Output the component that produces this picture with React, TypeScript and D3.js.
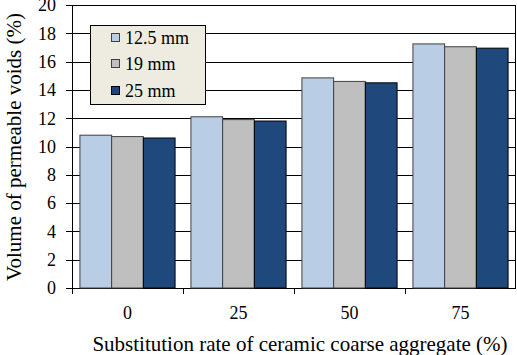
import React from "react";
import * as d3 from "d3";

const categories = ["0", "25", "50", "75"];
const seriesNames = ["12.5 mm", "19 mm", "25 mm"];
const s125 = [10.8, 12.1, 14.85, 17.25];
const s19 = [10.7, 11.9, 14.6, 17.05];
const s25 = [10.6, 11.8, 14.5, 16.95];
const yTicks = [0, 2, 4, 6, 8, 10, 12, 14, 16, 18, 20];

const colors = ["#B9CDE5", "#BFBFBF", "#1F497D"];
const strokes = ["#404040", "#404040", "#000000"];

export default function App() {
  const W = 517, H = 355;
  const left = 72, right = 516, top = 5, bottom = 288;
  const series = [s125, s19, s25];
  const x = d3.scaleBand<string>().domain(categories).range([left, right]).paddingInner(0).paddingOuter(0);
  const inner = d3.scaleBand<number>().domain([0, 1, 2]).range([0, x.bandwidth()]).paddingOuter(0.25).paddingInner(0);
  const y = d3.scaleLinear().domain([0, 20]).range([bottom, top]);
  const font = "'Liberation Serif', 'DejaVu Serif', serif";
  return (
    <svg width={W} height={H} style={{ position: "absolute", left: 0, top: 0, background: "#fff", fontFamily: font }}>
      {yTicks.map((t) => (
        <g key={t}>
          <line x1={left - 6} x2={right} y1={Math.round(y(t)) + 0.5} y2={Math.round(y(t)) + 0.5} stroke="#000" strokeWidth={1} />
          <text x={56} y={y(t)} dy="0.35em" textAnchor="end" fontSize={18} style={{ fontFamily: font }}>{t}</text>
        </g>
      ))}
      <line x1={left + 0.5} x2={left + 0.5} y1={top} y2={bottom + 6} stroke="#000" />
      <line x1={right - 0.5} x2={right - 0.5} y1={top} y2={bottom} stroke="#000" />
      {categories.map((c) => (
        <line key={"t" + c} x1={Math.round(x(c)!) + 0.5} x2={Math.round(x(c)!) + 0.5} y1={bottom} y2={bottom + 6} stroke="#000" />
      ))}
      {categories.map((c, i) =>
        series.map((s, k) => (
          <rect
            key={c + k}
            x={x(c)! + inner(k)!}
            y={y(s[i])}
            width={inner.bandwidth()}
            height={bottom - y(s[i])}
            fill={colors[k]}
            stroke={strokes[k]}
            strokeWidth={1}
          />
        ))
      )}
      {categories.map((c) => (
        <text key={"l" + c} x={x(c)! + x.bandwidth() / 2} y={313} dy="0.35em" textAnchor="middle" fontSize={18} style={{ fontFamily: font }}>{c}</text>
      ))}
      <text x={300} y={344} dy="0.35em" textAnchor="middle" fontSize={21} style={{ fontFamily: font }}>Substitution rate of ceramic coarse aggregate (%)</text>
      <text transform={`translate(14,${147}) rotate(-90)`} dy="0.35em" textAnchor="middle" fontSize={21} style={{ fontFamily: font }}>Volume of permeable voids (%)</text>
      <g>
        <rect x={90.5} y={25.5} width={115} height={79} fill="#EEECE1" stroke="#000" />
        {seriesNames.map((n, k) => (
          <g key={n}>
            <rect x={111.5} y={[38, 64, 91][k] - 4.5} width={8} height={8} fill={colors[k]} stroke={strokes[k]} />
            <text x={125} y={[38, 64, 91][k]} dy="0.35em" fontSize={18} style={{ fontFamily: font }}>{n}</text>
          </g>
        ))}
      </g>
    </svg>
  );
}
